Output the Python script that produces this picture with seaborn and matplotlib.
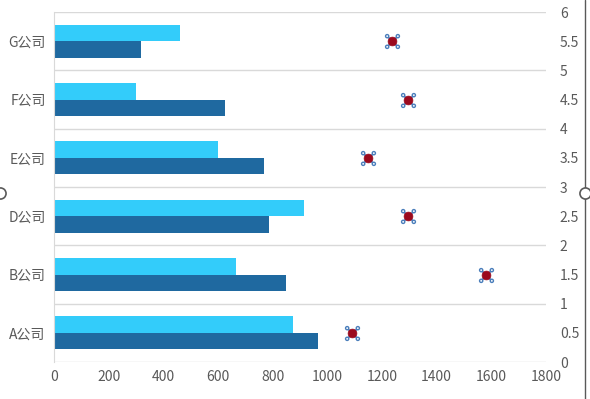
import pandas as pd
import matplotlib.pyplot as plt
import seaborn as sns
from matplotlib.path import Path
from matplotlib.lines import Line2D

# chart data
companies = ['A公司', 'B公司', 'D公司', 'E公司', 'F公司', 'G公司']
series_dark = [965, 850, 785, 770, 625, 320]
series_light = [875, 665, 915, 600, 300, 460]
point_x = [1090, 1580, 1295, 1150, 1295, 1235]
point_y = [0.5, 1.5, 2.5, 3.5, 4.5, 5.5]
x_ticks = [0, 200, 400, 600, 800, 1000, 1200, 1400, 1600, 1800]
y2_major = [0, 1, 2, 3, 4, 5, 6]
y2_minor = [0.5, 1.5, 2.5, 3.5, 4.5, 5.5]

bars = pd.DataFrame({
    'company': companies * 2,
    'value': series_dark + series_light,
    'series': ['s1'] * len(companies) + ['s2'] * len(companies),
})
points = pd.DataFrame({'x': point_x, 'y': point_y})

sns.set_style('white')
plt.rcParams['font.family'] = ['Noto Sans CJK SC', 'DejaVu Sans']

fig = plt.figure(figsize=(5.9, 3.99), dpi=100)
ax = fig.add_axes([0.0915, 0.0927, 0.8339, 0.8772])

# top category first so A ends at the bottom
sns.barplot(data=bars, x='value', y='company', hue='series',
            order=companies[::-1], hue_order=['s2', 's1'],
            palette=['#33CCFA', '#1F69A0'], orient='h', width=0.57,
            saturation=1, legend=False, linewidth=0, ax=ax)
ax.set_xlim(0, 1800)
ax.set_xticks(x_ticks)
ax.set_ylim(5.5, -0.5)
ax.set_xlabel('')
ax.set_ylabel('')
ax.tick_params(axis='both', length=0, labelsize=10, labelcolor='#595959', pad=6)
for s in ['top', 'right', 'bottom']:
    ax.spines[s].set_visible(False)
ax.spines['left'].set_color('#D9D9D9')

ax2 = ax.twinx()
ax2.set_ylim(0, 6)
ax2.set_yticks(y2_major)
ax2.set_yticklabels([f'{t:g}' for t in y2_major])
ax2.set_yticks(y2_minor, minor=True)
ax2.set_yticklabels([f'{t:g}' for t in y2_minor], minor=True)
ax2.tick_params(axis='y', which='both', length=0, labelsize=10,
                labelcolor='#595959', pad=10)
ax2.grid(axis='y', which='major', color='#D9D9D9', linewidth=1)
for s in ax2.spines.values():
    s.set_visible(False)
# bars above the grid of the twin axis
ax.set_zorder(ax2.get_zorder() + 1)
ax.patch.set_visible(False)

corner = Path.make_compound_path(*[Path.circle((dx, dy), 0.3)
                                   for dx in (-1, 1) for dy in (-1, 1)])
sns.scatterplot(data=points, x='x', y='y', ax=ax2, marker='x', s=70,
                color='#4A7EBB', linewidth=1.3, zorder=3)
sns.scatterplot(data=points, x='x', y='y', ax=ax2, marker='o', s=40,
                color='#9B0A1E', edgecolor='#9B0A1E', zorder=4)
sns.scatterplot(data=points, x='x', y='y', ax=ax2, marker=corner, s=100,
                facecolor='white', edgecolor='#4A7EBB', linewidth=1, zorder=5)
ax2.set_xlabel('')
ax2.set_ylabel('')
ax2.set_xlim(0, 1800)

# chart frame edge and handles
fig.add_artist(Line2D([0.992, 0.992], [0.0, 1.0], color='#595959', lw=1))
fig.add_artist(Line2D([0.992], [0.516], marker='o', markersize=8,
                      mfc='white', mec='#595959', mew=1.2))
fig.add_artist(Line2D([0.0], [0.516], marker='o', markersize=8,
                      mfc='white', mec='#595959', mew=1.2))

plt.savefig('out.png', dpi=100)
